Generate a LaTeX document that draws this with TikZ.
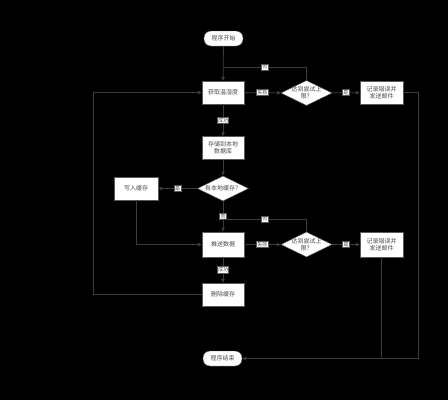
\documentclass[tikz,border=0pt]{standalone}
\usepackage{fontspec}
\usetikzlibrary{arrows.meta,positioning,shapes.geometric,calc}
\newfontfamily\cjk{Noto Sans CJK SC}
\definecolor{bgdark}{HTML}{000000}
\definecolor{edgegray}{HTML}{3C3C3C}
\definecolor{boxline}{HTML}{5A5A5A}
\definecolor{textgray}{HTML}{4D4D4D}
\newcommand{\boxfont}{\cjk\fontsize{6}{7}\selectfont}
\newcommand{\lblfont}{\cjk\fontsize{5}{5}\selectfont}
\tikzset{
  box/.style={draw=boxline,fill=white,minimum width=42pt,minimum height=23pt,
              inner sep=1pt,align=center,font=\boxfont,text=textgray},
  term/.style={box,rounded corners=7pt,minimum width=39pt,minimum height=15pt},
  dia/.style={diamond,draw=boxline,fill=white,minimum width=51pt,
              minimum height=25pt,inner sep=0pt},
  dtext/.style={align=center,font=\boxfont,text=textgray,inner sep=0pt},
  lbl/.style={draw=boxline,fill=white,inner sep=0.8pt,font=\lblfont,text=textgray},
  flow/.style={draw=edgegray,line width=0.8pt},
  arr/.style={flow,-{Triangle[length=4pt,width=3.5pt]}},
}
\begin{document}
\begin{tikzpicture}[x=1pt,y=-1pt]
  % background and frame
  \fill[bgdark] (0,0) rectangle (448,400);
  \useasboundingbox (0,0) rectangle (448,400);

  % main column
  \node[term] (start) at (223.5,38.5) {程序开始};
  \node[box] (get) at (223,92.5) {获取温湿度};
  \node[box] (store) at (223,148) {存储到本地\\数据库};
  \node[dia,label={[dtext]center:有本地缓存？}] (hascache) at (223,188.5) {};
  \node[box,minimum width=44pt] (cache) at (136,188.5) {写入缓存};
  \node[box,minimum height=25pt] (push) at (223,244.5) {推送数据};
  \node[box] (del) at (223,294.5) {删除缓存};
  \node[term] (end) at (222.5,358.5) {程序结束};

  % retry checks
  \node[dia,label={[dtext]center:{达到尝试上\\限？}}] (retryA) at (306.5,93) {};
  \node[dia,label={[dtext]center:{达到尝试上\\限？}}] (retryB) at (306.5,244.5) {};
  \node[box,minimum width=43pt] (mailA) at (381.5,92.5) {记录错误并\\发送邮件};
  \node[box,minimum width=43pt,minimum height=25pt] (mailB) at (381.5,244.5) {记录错误并\\发送邮件};

  \coordinate (joinA) at (223,67);
  \coordinate (joinB) at (223,219);
  \coordinate (rightcol) at (418,358.5);
  \coordinate (leftcol) at (93,294.5);

  \draw[arr] (start) -- (get);
  \draw[arr] (get) -- node[lbl] {失败} (retryA);
  \draw[arr] (retryA) -- node[lbl] {是} (mailA);
  \draw[flow] (retryA.north) |- node[lbl,pos=0.75] {否} (joinA);
  \draw[arr] (get) -- node[lbl] {成功} (store);
  \draw[arr] (store) -- (hascache);
  \draw[arr] (hascache) -- node[lbl] {是} (cache);
  \draw[arr] (hascache) -- node[lbl] {否} (push);
  \draw[arr] (cache.south) |- (push.west);
  \draw[arr] (push) -- node[lbl] {失败} (retryB);
  \draw[arr] (retryB) -- node[lbl] {是} (mailB);
  \draw[flow] (retryB.north) |- node[lbl,pos=0.75] {否} (joinB);
  \draw[arr] (push) -- node[lbl] {成功} (del);
  \draw[arr] (del.west) -- (leftcol) |- (get.west);
  \draw[arr] (mailA.east) -| (rightcol) -- (end.east);
  \draw[flow] (mailB.south) -- (mailB.south |- end.east);
\end{tikzpicture}
\end{document}
